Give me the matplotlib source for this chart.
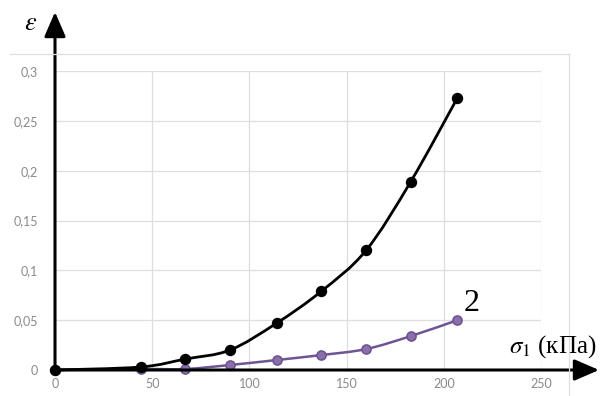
import numpy as np
import matplotlib
matplotlib.use("Agg")
import matplotlib.pyplot as plt
from matplotlib.path import Path
from matplotlib.patches import PathPatch
from matplotlib.lines import Line2D

# stress (kPa) and strain for the two curves
sigma = [0, 44, 67, 90, 114, 137, 160, 183, 207]
eps_1 = [0, 0.003, 0.011, 0.020, 0.047, 0.079, 0.120, 0.189, 0.273]
eps_2 = [0, 0.001, 0.001, 0.005, 0.010, 0.015, 0.021, 0.034, 0.050]

x_ticks = [0, 50, 100, 150, 200, 250]
y_ticks = [0, 0.05, 0.1, 0.15, 0.2, 0.25, 0.3]
y_labels = ["0", "0,05", "0,1", "0,15", "0,2", "0,25", "0,3"]

plt.rcParams["font.family"] = ["Lato", "DejaVu Sans"]
plt.rcParams["mathtext.fontset"] = "stix"


def smooth_path(xs, ys, tension=1 / 6):
    """Cubic Bezier path through points (Catmull-Rom style, like spreadsheet smoothing)."""
    pts = np.column_stack([xs, ys]).astype(float)
    verts = [pts[0]]
    codes = [Path.MOVETO]
    n = len(pts)
    for i in range(n - 1):
        p0 = pts[i - 1] if i > 0 else pts[i]
        p1 = pts[i]
        p2 = pts[i + 1]
        p3 = pts[i + 2] if i + 2 < n else pts[i + 1]
        c1 = p1 + (p2 - p0) * tension
        c2 = p2 - (p3 - p1) * tension
        verts += [c1, c2, p2]
        codes += [Path.CURVE4] * 3
    return Path(verts, codes)


fig = plt.figure(figsize=(6, 3.96), dpi=100)
ax = fig.add_axes([55 / 600, 26 / 396, 486 / 600, 299 / 396])
ax.set_xlim(0, 250)
ax.set_ylim(0, 0.3)

ax.set_xticks(x_ticks)
ax.set_yticks(y_ticks)
ax.set_yticklabels(y_labels)
ax.tick_params(length=0, labelsize=9, labelcolor="#8a8a8a", pad=12)
ax.tick_params(axis="x", pad=6)
ax.grid(True, color="#dedede", linewidth=0.9)
for side in ax.spines.values():
    side.set_visible(False)
ax.set_axisbelow(True)

# curves: purple first so the black one sits on top
for ys, col, lw, ms, face in [(eps_2, "#6f5493", 1.8, 6.5, "#8a70a8"),
                              (eps_1, "black", 2.0, 7, "black")]:
    ax.add_patch(PathPatch(smooth_path(sigma, ys), facecolor="none",
                           edgecolor=col, linewidth=lw, zorder=3, clip_on=False))
    ax.plot(sigma, ys, linestyle="none", marker="o", markersize=ms,
            markerfacecolor=face, markeredgecolor=col, markeredgewidth=1.2,
            zorder=4, clip_on=False)

# outer frame lines (top and right)
fig.add_artist(Line2D([10 / 600, 569 / 600], [1 - 54 / 396, 1 - 54 / 396],
                      color="#dedede", linewidth=0.9))
fig.add_artist(Line2D([569 / 600, 569 / 600], [0, 1 - 54 / 396],
                      color="#dedede", linewidth=0.9))

# axis arrows
arrow = dict(arrowstyle="-|>,head_length=1.5,head_width=0.65", color="black",
             linewidth=2.2, shrinkA=0, shrinkB=0)
ax.annotate("", xy=(55 / 600, 1 - 12 / 396), xycoords="figure fraction",
            xytext=(0, 0), textcoords="data", arrowprops=arrow, zorder=5)
ax.annotate("", xy=(599 / 600, 1 - 370 / 396), xycoords="figure fraction",
            xytext=(0, 0), textcoords="data", arrowprops=arrow, zorder=5)

# labels
fig.text(31 / 600, 1 - 23 / 396, r"$\mathit{\varepsilon}$", fontsize=19,
         ha="center", va="center")
fig.text(596 / 600, 1 - 347 / 396, r"$\sigma_1$ (кПа)", fontsize=18,
         family="Liberation Serif", ha="right", va="center")
ax.text(210, 0.052, "2", fontsize=23, family="Liberation Serif",
        ha="left", va="bottom")

fig.savefig("out.png", dpi=100)
